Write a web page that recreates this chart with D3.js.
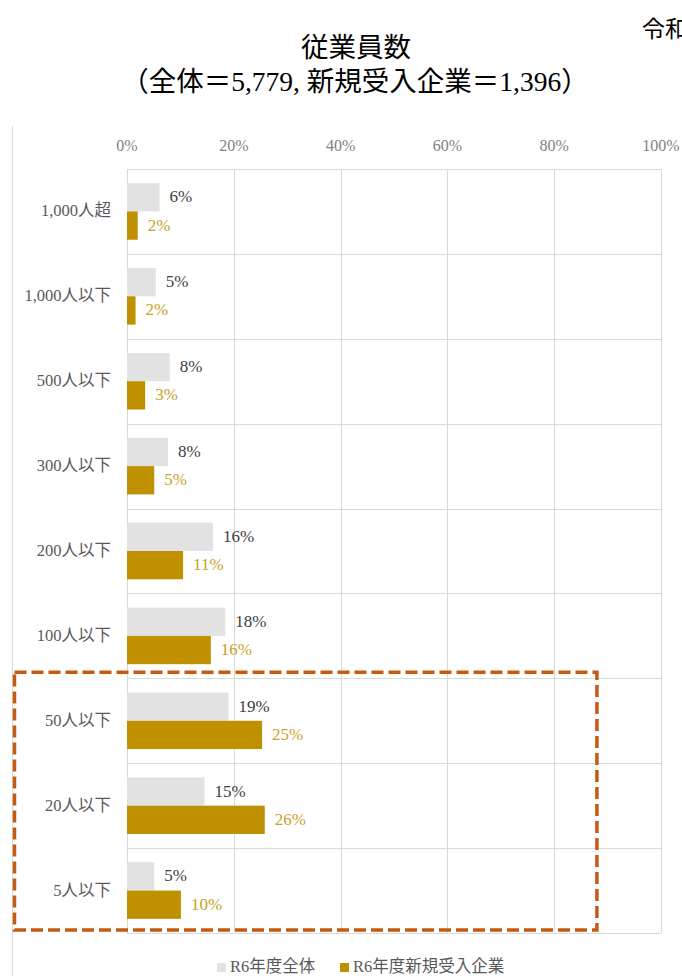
<!DOCTYPE html>
<html lang="ja">
<head>
  <meta charset="UTF-8">
  <title>従業員数</title>
  <script src="https://d3js.org/d3.v7.min.js"></script>
  <style>
    body {
      margin: 0;
      background-color: #ffffff;
      font-family: 'Liberation Serif', 'Noto Sans CJK JP', serif;
    }
    svg { display: block; }
    .grid line { stroke: #d9d9d9; stroke-width: 1; }
    .tick-label { fill: #7f7f7f; font-size: 16px; }
    .cat-label { fill: #595959; font-size: 16.5px; }
    .title { fill: #000000; font-size: 27.5px; }
  </style>
</head>
<body>
  <svg width="682" height="976"></svg>

  <script>
    // data
    const categories = ["1,000人超", "1,000人以下", "500人以下", "300人以下", "200人以下", "100人以下", "50人以下", "20人以下", "5人以下"];
    const seriesNames = ["R6年度全体", "R6年度新規受入企業"];
    const allValues = [6.1, 5.4, 8.0, 7.7, 16.1, 18.4, 19.0, 14.5, 5.1];
    const newValues = [2.0, 1.6, 3.4, 5.1, 10.5, 15.7, 25.3, 25.8, 10.1];
    const allLabels = ["6%", "5%", "8%", "8%", "16%", "18%", "19%", "15%", "5%"];
    const newLabels = ["2%", "2%", "3%", "5%", "11%", "16%", "25%", "26%", "10%"];
    const xTicks = [0, 20, 40, 60, 80, 100];
    const highlighted = ["50人以下", "20人以下", "5人以下"];

    const colors = ["#e2e2e2", "#bf9000"];
    const labelColors = ["#404040", "#c9a227"];

    const svg = d3.select("svg");
    const plotLeft = 127, plotRight = 661, plotTop = 169, plotBottom = 933;

    const x = d3.scaleLinear().domain([0, 100]).range([plotLeft, plotRight]);
    const y = d3.scaleBand().domain(categories).range([plotTop, plotBottom]);
    const inner = d3.scaleBand().domain([0, 1]).range([0, y.bandwidth()]).paddingOuter(0.5);

    // title
    svg.append("text").attr("class", "title")
      .attr("x", 356).attr("y", 57).attr("text-anchor", "middle")
      .text("従業員数");
    svg.append("text").attr("class", "title")
      .attr("x", 355).attr("y", 91).attr("text-anchor", "middle")
      .text("（全体＝5,779, 新規受入企業＝1,396）");
    // runs past the right edge, as in the original slide
    svg.append("text").attr("class", "title")
      .attr("x", 642).attr("y", 37).style("font-size", "23px")
      .text("令和");

    // chart area left edge
    svg.append("line")
      .attr("x1", 12.5).attr("x2", 12.5).attr("y1", 126).attr("y2", 976)
      .attr("stroke", "#d9d9d9");

    // gridlines
    const grid = svg.append("g").attr("class", "grid");
    grid.selectAll("line.v").data(xTicks).enter().append("line")
      .attr("class", "v")
      .attr("x1", d => Math.round(x(d)) + 0.5).attr("x2", d => Math.round(x(d)) + 0.5)
      .attr("y1", plotTop).attr("y2", plotBottom);
    const bounds = categories.map(c => y(c)).concat([plotBottom]);
    grid.selectAll("line.h").data(bounds).enter().append("line")
      .attr("class", "h")
      .attr("x1", plotLeft).attr("x2", plotRight)
      .attr("y1", d => Math.round(d) + 0.5).attr("y2", d => Math.round(d) + 0.5);

    // top axis tick labels
    svg.append("g").selectAll("text").data(xTicks).enter().append("text")
      .attr("class", "tick-label")
      .attr("x", d => x(d)).attr("y", 151).attr("text-anchor", "middle")
      .text(d => d + "%");

    // category labels
    svg.append("g").selectAll("text").data(categories).enter().append("text")
      .attr("class", "cat-label")
      .attr("x", 111).attr("y", d => y(d) + y.bandwidth() / 2 + 5)
      .attr("text-anchor", "end")
      .text(d => d);

    // bars
    const series = [allValues, newValues];
    const labels = [allLabels, newLabels];
    series.forEach((vals, s) => {
      const g = svg.append("g");
      g.selectAll("rect").data(vals).enter().append("rect")
        .attr("x", x(0))
        .attr("y", (d, i) => y(categories[i]) + inner(s))
        .attr("width", d => x(d) - x(0))
        .attr("height", inner.bandwidth())
        .attr("fill", colors[s]);
      g.selectAll("text").data(vals).enter().append("text")
        .attr("x", d => x(d) + 10)
        .attr("y", (d, i) => y(categories[i]) + inner(s) + inner.bandwidth() / 2 + 5)
        .attr("fill", labelColors[s])
        .style("font-size", "17px")
        .text((d, i) => labels[s][i]);
    });

    // highlight box around the smallest companies
    const hiTop = y(highlighted[0]) - 6;
    svg.append("rect")
      .attr("x", 14.5).attr("y", hiTop)
      .attr("width", x(88) - 14.5).attr("height", plotBottom - 3 - hiTop)
      .attr("fill", "none")
      .attr("stroke", "#c55a11")
      .attr("stroke-width", 3.5)
      .attr("stroke-dasharray", "12 5");

    // legend
    const legend = svg.append("g");
    const legendX = [217, 340];
    seriesNames.forEach((name, i) => {
      legend.append("rect")
        .attr("x", legendX[i]).attr("y", 963).attr("width", 9).attr("height", 9)
        .attr("fill", colors[i]);
      legend.append("text")
        .attr("x", legendX[i] + 13).attr("y", 972)
        .attr("fill", "#595959").style("font-size", "16.5px")
        .text(name);
    });
  </script>
</body>
</html>
